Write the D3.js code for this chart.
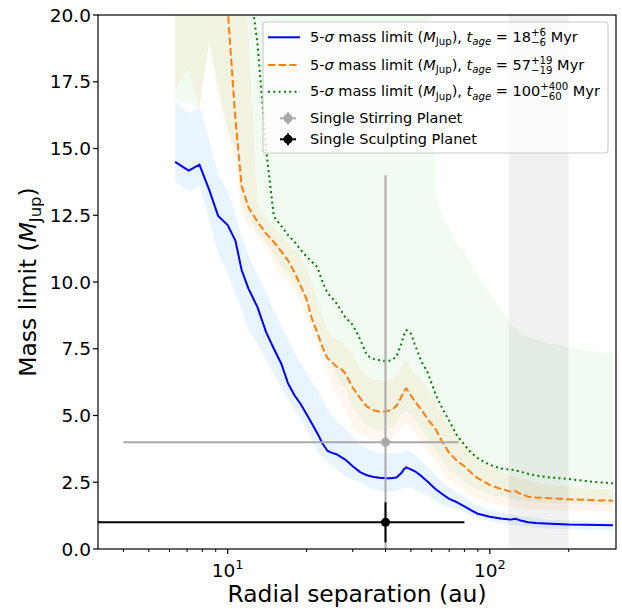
<!DOCTYPE html>
<html>
<head>
<meta charset="utf-8">
<script src="https://cdn.jsdelivr.net/npm/d3@7"></script>
<style>
  body { margin: 0; background: #fff; }
  svg { display: block; font-family: "DejaVu Sans", sans-serif; }
  text { white-space: pre; }
</style>
</head>
<body>
<svg id="chart" width="622" height="609"></svg>
<script>
// radial separations (au) shared by the three contrast curves
var radii = [6.3, 7.1, 7.8, 8.5, 9.2, 10, 10.7, 11.3, 12, 13, 14, 15, 16, 17, 18, 19, 20, 21, 22, 23,
    24, 25, 26, 27, 28, 30, 32, 34, 36, 38, 40, 42, 44, 46, 47, 48, 50, 52, 55, 58, 62, 66, 70, 75, 80,
    85, 90, 100, 110, 120, 125, 130, 140, 150, 170, 200, 230, 260, 295];

// 18 Myr
var blueMid = [14.5, 14.17, 14.4, 13.45, 12.47, 12.13, 11.55, 10.45, 9.75, 9.05, 8.13, 7.5, 6.95, 6.2, 5.75,
    5.42, 5.05, 4.68, 4.33, 3.95, 3.68, 3.6, 3.55, 3.45, 3.36, 3.1, 2.88, 2.76, 2.7, 2.67, 2.65, 2.65, 2.68,
    2.85, 2.98, 3.06, 2.98, 2.9, 2.72, 2.52, 2.25, 2.05, 1.88, 1.75, 1.6, 1.45, 1.32, 1.21, 1.14, 1.1, 1.13,
    1.08, 1.0, 0.97, 0.95, 0.92, 0.91, 0.9, 0.89];
var blueHi = [16.75, 16.3, 16.56, 15.3, 14.0, 13.4, 12.5, 11.7, 11.0, 10.25, 9.6, 8.9, 8.35, 7.85, 7.35,
    6.95, 6.6, 6.25, 5.95, 5.6, 5.25, 5.0, 4.8, 4.65, 4.5, 4.2, 3.9, 3.75, 3.65, 3.6, 3.58, 3.58, 3.58, 3.6,
    3.65, 3.72, 3.62, 3.5, 3.3, 3.05, 2.75, 2.5, 2.3, 2.12, 1.95, 1.78, 1.62, 1.48, 1.38, 1.3, 1.28, 1.24,
    1.2, 1.15, 1.1, 1.07, 1.05, 1.03, 1.02];
var blueLo = [13.78, 13.37, 13.63, 12.3, 11.07, 10.33, 9.5, 9.0, 8.2, 7.7, 7.1, 6.55, 6.05, 5.6, 5.2,
    4.85, 4.45, 4.05, 3.65, 3.42, 3.3, 3.15, 3.0, 2.85, 2.75, 2.58, 2.5, 2.35, 2.25, 2.18, 2.15, 2.15, 2.18,
    2.25, 2.3, 2.33, 2.28, 2.2, 2.1, 2.0, 1.8, 1.65, 1.55, 1.48, 1.38, 1.25, 1.15, 1.05, 0.95, 0.9, 0.9,
    0.87, 0.83, 0.8, 0.77, 0.74, 0.72, 0.71, 0.7];

// 57 Myr
var orangeMid = [24, 23.5, 24, 23, 21.5, 20.2, 16.1, 13.6, 12.8, 12.25, 11.82, 11.5, 11.15, 10.8, 10.35,
    9.85, 9.35, 8.6, 8.1, 7.55, 7.15, 7.0, 6.83, 6.75, 6.6, 6.05, 5.65, 5.33, 5.2, 5.14, 5.15, 5.2, 5.35,
    5.7, 5.9, 6.02, 5.75, 5.5, 5.2, 4.85, 4.5, 4.0, 3.6, 3.3, 3.1, 2.85, 2.65, 2.4, 2.25, 2.15, 2.17, 2.08,
    1.96, 1.93, 1.9, 1.86, 1.84, 1.82, 1.81];
var orangeHi = [26, 26, 26, 26, 26, 26, 26, 26, 19, 12.9, 12.4, 12.05, 11.75, 11.5, 11.2,
    10.9, 10.57, 9.9, 9.25, 8.75, 8.2, 8.0, 7.85, 7.75, 7.65, 7.3, 6.75, 6.5, 6.38, 6.33, 6.33, 6.35, 6.45,
    6.8, 7.0, 7.08, 6.8, 6.55, 6.35, 6.0, 5.5, 5.0, 4.6, 4.3, 4.05, 3.7, 3.4, 3.12, 2.9, 2.75, 2.72, 2.65,
    2.56, 2.5, 2.4, 2.32, 2.27, 2.24, 2.21];
var orangeLo = [17.2, 18.0, 16.5, 19.0, 17.0, 15.6, 14.5, 12.5, 12.1, 11.7, 11.25, 10.75, 10.25, 10.0, 9.7,
    9.1, 8.6, 8.1, 7.6, 7.1, 6.6, 6.1, 5.8, 5.55, 5.2, 4.6, 4.3, 4.15, 4.1, 4.08, 4.1, 4.15, 4.3,
    4.55, 4.65, 4.71, 4.55, 4.35, 4.0, 3.7, 3.3, 2.9, 2.6, 2.4, 2.2, 2.0, 1.85, 1.72, 1.63, 1.58, 1.57, 1.54,
    1.5, 1.47, 1.45, 1.43, 1.42, 1.41, 1.40];

// 100 Myr
var greenMid = [30, 30, 30, 30, 29, 27, 25, 23, 21.5, 18.9, 15.0, 12.45, 12.1, 11.75, 11.5,
    11.2, 10.95, 10.75, 10.55, 10.0, 9.6, 9.4, 9.2, 8.95, 8.7, 8.39, 7.85, 7.25, 7.12, 7.07, 7.04, 7.06, 7.2,
    7.7, 8.0, 8.2, 8.07, 7.6, 7.0, 6.6, 5.8, 5.25, 4.8, 4.25, 3.9, 3.6, 3.4, 3.15, 3.02, 2.97, 2.95, 2.9,
    2.82, 2.75, 2.68, 2.62, 2.55, 2.5, 2.46];
var greenHi = [30, 30, 30, 30, 30, 30, 30, 30, 30, 30, 30, 30, 30, 30, 30,
    30, 30, 30, 30, 30, 30, 30, 30, 30, 30, 30, 30, 30, 30, 30, 30, 30, 30,
    30, 30, 30, 30, 30, 30, 26, 13.3, 12.4, 12.0, 11.4, 11.1, 10.6, 10.2, 9.6, 9.0, 8.45, 8.3, 8.1,
    7.95, 7.85, 7.7, 7.55, 7.45, 7.38, 7.33];
var greenLo = [16.8, 16.7, 16.5, 19.0, 17.3, 15.8, 15.0, 13.0, 12.4, 11.95, 11.5, 11.05, 10.6, 10.3, 9.95,
    9.6, 9.2, 8.7, 8.2, 7.7, 7.2, 6.8, 6.5, 6.3, 6.0, 5.3, 4.9, 4.6, 4.5, 4.45, 4.47, 4.52, 4.7,
    5.0, 5.1, 5.2, 5.0, 4.8, 4.45, 4.1, 3.7, 3.3, 2.95, 2.75, 2.55, 2.35, 2.2, 2.05, 1.95, 1.88, 1.87, 1.84,
    1.8, 1.77, 1.73, 1.7, 1.68, 1.67, 1.66];

// planets: [x, xerr, y, yerr]
var stirring = [40, 36, 4, 10];
var sculpting = [40, 40, 1, 0.75];

var greySpan = [118, 200];

var yTicks = [0, 2.5, 5, 7.5, 10, 12.5, 15, 17.5, 20];
var xMajor = [10, 100];
var xMinor = [4, 5, 6, 7, 8, 9, 20, 30, 40, 50, 60, 70, 80, 90, 200];

(function () {
    var svg = d3.select("#chart");
    var left = 98, right = 616, plotTop = 15, bottom = 549;

    var x = d3.scaleLog().domain([3.2, 303]).range([left, right]);
    var y = d3.scaleLinear().domain([0, 20]).range([bottom, plotTop]);

    svg.append("defs").append("clipPath").attr("id", "plotClip")
        .append("rect").attr("x", left).attr("y", plotTop)
        .attr("width", right - left).attr("height", bottom - plotTop);

    var plot = svg.append("g").attr("clip-path", "url(#plotClip)");
    var idx = d3.range(radii.length);

    function band(lo, hi, color, op) {
        var area = d3.area()
            .x(function (i) { return x(radii[i]); })
            .y0(function (i) { return y(lo[i]); })
            .y1(function (i) { return y(hi[i]); });
        plot.append("path").datum(idx).attr("d", area)
            .attr("fill", color).attr("fill-opacity", op).attr("stroke", "none");
    }

    function curve(vals, color, dash) {
        var line = d3.line()
            .x(function (i) { return x(radii[i]); })
            .y(function (i) { return y(vals[i]); });
        plot.append("path").datum(idx).attr("d", line)
            .attr("fill", "none").attr("stroke", color).attr("stroke-width", 2)
            .attr("stroke-dasharray", dash).attr("stroke-linejoin", "round");
    }

    band(blueLo, blueHi, "#1e90ff", 0.1);
    band(orangeLo, orangeHi, "#ff7f0e", 0.07);
    band(greenLo, greenHi, "#00b000", 0.055);

    plot.append("rect")
        .attr("x", x(greySpan[0])).attr("y", plotTop)
        .attr("width", x(greySpan[1]) - x(greySpan[0])).attr("height", bottom - plotTop)
        .attr("fill", "#000").attr("fill-opacity", 0.055);

    curve(blueMid, "#0000ff", null);
    curve(orangeMid, "#ff7f0e", "7.4,3.2");
    curve(greenMid, "#008000", "2,3.3");

    function errbar(p, color) {
        var xl = p[0] - p[1] > 0 ? x(p[0] - p[1]) : left - 10;
        var g = plot.append("g").attr("stroke", color).attr("stroke-width", 2);
        g.append("line").attr("x1", xl).attr("x2", x(p[0] + p[1]))
            .attr("y1", y(p[2])).attr("y2", y(p[2]));
        g.append("line").attr("x1", x(p[0])).attr("x2", x(p[0]))
            .attr("y1", y(p[2] - p[3])).attr("y2", y(p[2] + p[3]));
        plot.append("circle").attr("cx", x(p[0])).attr("cy", y(p[2])).attr("r", 4.5).attr("fill", color);
    }
    errbar(stirring, "#a9a9a9");
    errbar(sculpting, "#000000");

    // spines
    svg.append("rect").attr("x", left).attr("y", plotTop)
        .attr("width", right - left).attr("height", bottom - plotTop)
        .attr("fill", "none").attr("stroke", "#000").attr("stroke-width", 1.2);

    // y ticks
    yTicks.forEach(function (v) {
        svg.append("line").attr("x1", left - 5).attr("x2", left)
            .attr("y1", y(v)).attr("y2", y(v)).attr("stroke", "#000").attr("stroke-width", 1.2);
        svg.append("text").attr("x", left - 7).attr("y", y(v) + 6.6)
            .attr("text-anchor", "end").style("font-size", "18.5px").text(v.toFixed(1));
    });

    // x ticks
    xMinor.forEach(function (v) {
        svg.append("line").attr("x1", x(v)).attr("x2", x(v))
            .attr("y1", bottom).attr("y2", bottom + 3).attr("stroke", "#000").attr("stroke-width", 1);
    });
    xMajor.forEach(function (v) {
        svg.append("line").attr("x1", x(v)).attr("x2", x(v))
            .attr("y1", bottom).attr("y2", bottom + 5).attr("stroke", "#000").attr("stroke-width", 1.2);
    });

    // text built piece by piece so sub/superscripts line up
    function richText(parent, px, py, parts, anchor) {
        var g = parent.append("g");
        var cx = 0;
        function piece(p) {
            var t = g.append("text")
                .attr("xml:space", "preserve")
                .attr("x", cx).attr("y", -(p.rise || 0))
                .style("font-size", p.size + "px")
                .style("font-style", p.italic ? "italic" : "normal")
                .text(p.t);
            return t.node().getComputedTextLength();
        }
        parts.forEach(function (p) {
            if (p.stack) {
                var w = 0;
                p.stack.forEach(function (s) { w = Math.max(w, piece(s)); });
                cx += w;
            } else {
                cx += piece(p);
            }
        });
        var shift = anchor === "middle" ? -cx / 2 : (anchor === "end" ? -cx : 0);
        g.attr("transform", "translate(" + (px + shift) + "," + py + ")");
        return g;
    }

    xMajor.forEach(function (v) {
        richText(svg, x(v), 577, [
            {t: "10", size: 18.5},
            {t: String(Math.round(Math.log10(v))), size: 13, rise: 8}
        ], "middle");
    });

    // axis labels
    richText(svg, (left + right) / 2, 602, [{t: "Radial separation (au)", size: 23.4}], "middle");
    var yl = svg.append("g").attr("transform", "translate(36," + (plotTop + bottom) / 2 + ") rotate(-90)");
    richText(yl, 0, 0, [
        {t: "Mass limit (", size: 23.4},
        {t: "M", size: 23.4, italic: true},
        {t: "Jup", size: 16.4, rise: -5},
        {t: ")", size: 23.4}
    ], "middle");

    // legend
    var lg = svg.append("g");
    lg.append("rect").attr("x", 263).attr("y", 22).attr("width", 345).attr("height", 131).attr("rx", 3)
        .attr("fill", "#fff").attr("fill-opacity", 0.8)
        .attr("stroke", "#cccccc").attr("stroke-width", 1.2);

    var fs = 14.5, sm = 10.2;
    function ageLabel(age, up, down) {
        return [
            {t: "5-", size: fs}, {t: "σ", size: fs, italic: true}, {t: " mass limit (", size: fs},
            {t: "M", size: fs, italic: true}, {t: "Jup", size: sm, rise: -3.5}, {t: "), ", size: fs},
            {t: "t", size: fs, italic: true}, {t: "age", size: sm, italic: true, rise: -3.5},
            {t: " = " + age, size: fs},
            {stack: [{t: up, size: sm, rise: 6}, {t: down, size: sm, rise: -4}]},
            {t: " Myr", size: fs}
        ];
    }

    var lineRows = [
        {y: 37.3, color: "#0000ff", dash: null, label: ageLabel("18", "+6", "−6")},
        {y: 65, color: "#ff7f0e", dash: "7.4,3.2", label: ageLabel("57", "+19", "−19")},
        {y: 91.7, color: "#008000", dash: "2,3.3", label: ageLabel("100", "+400", "−60")}
    ];
    lineRows.forEach(function (r) {
        lg.append("line").attr("x1", 268).attr("x2", 300).attr("y1", r.y).attr("y2", r.y)
            .attr("stroke", r.color).attr("stroke-width", 2).attr("stroke-dasharray", r.dash);
        richText(lg, 310, r.y + 4.6, r.label, "start");
    });

    var markRows = [
        {y: 118.3, color: "#a9a9a9", label: "Single Stirring Planet"},
        {y: 139.3, color: "#000000", label: "Single Sculpting Planet"}
    ];
    markRows.forEach(function (r) {
        lg.append("line").attr("x1", 280).attr("x2", 296).attr("y1", r.y).attr("y2", r.y)
            .attr("stroke", r.color).attr("stroke-width", 2);
        lg.append("line").attr("x1", 288).attr("x2", 288).attr("y1", r.y - 6).attr("y2", r.y + 6)
            .attr("stroke", r.color).attr("stroke-width", 2);
        lg.append("circle").attr("cx", 288).attr("cy", r.y).attr("r", 4.5).attr("fill", r.color);
        lg.append("text").attr("x", 310).attr("y", r.y + 4.6).style("font-size", fs + "px").text(r.label);
    });
})();
</script>
</body>
</html>
